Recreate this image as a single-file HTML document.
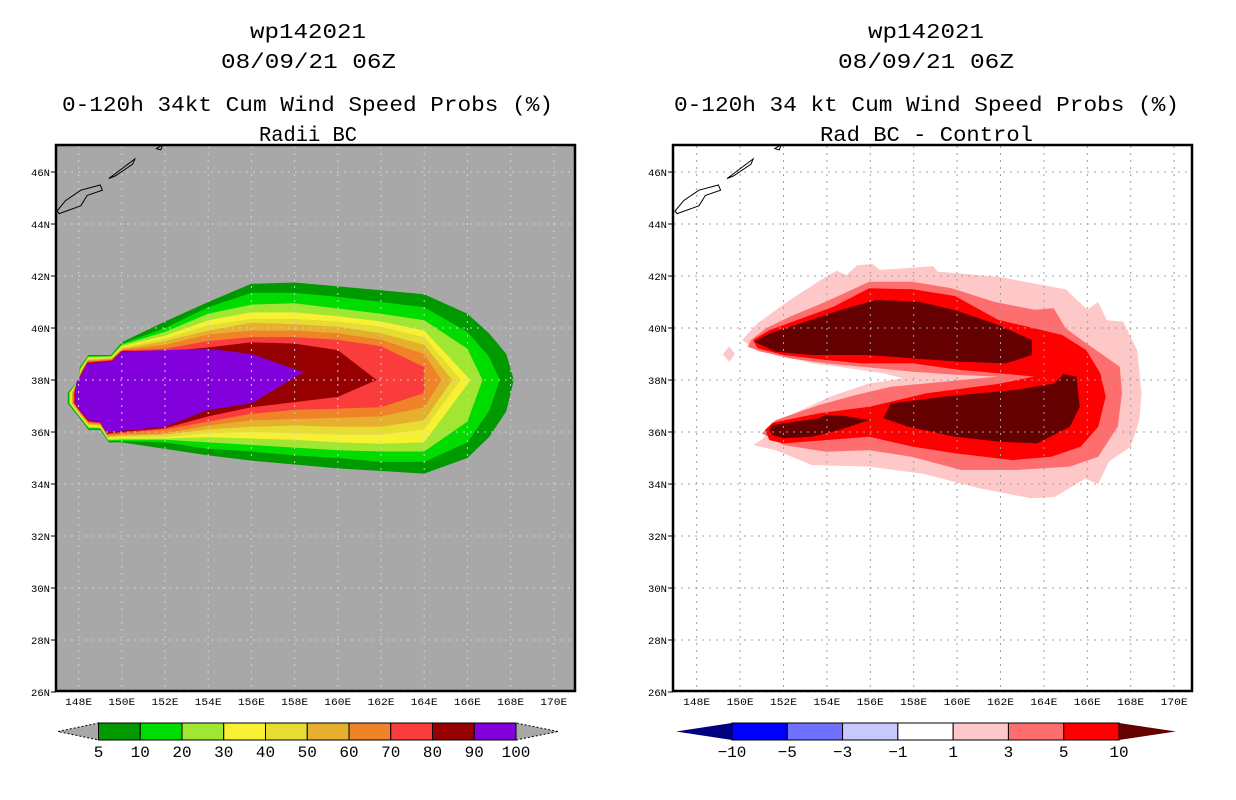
<!DOCTYPE html>
<html><head><meta charset="utf-8"><style>
html,body{margin:0;padding:0;background:#fff;}
svg{display:block;font-family:"Liberation Mono","DejaVu Sans Mono",monospace;}
</style></head><body>
<svg id="fig" width="1236" height="800" viewBox="0 0 1236 800" xmlns="http://www.w3.org/2000/svg">
<rect width="1236" height="800" fill="#fff"/>
<g font-size="21" fill="#000">
<text x="250" y="38" textLength="116" lengthAdjust="spacingAndGlyphs">wp142021</text>
<text x="221" y="68" textLength="175" lengthAdjust="spacingAndGlyphs">08/09/21 06Z</text>
<text x="62" y="111" textLength="491" lengthAdjust="spacingAndGlyphs">0-120h 34kt Cum Wind Speed Probs (%)</text>
<text x="259" y="141" textLength="98" lengthAdjust="spacingAndGlyphs">Radii BC</text>
</g>
<g font-size="21" fill="#000">
<text x="868" y="38" textLength="116" lengthAdjust="spacingAndGlyphs">wp142021</text>
<text x="838" y="68" textLength="176" lengthAdjust="spacingAndGlyphs">08/09/21 06Z</text>
<text x="674" y="111" textLength="505" lengthAdjust="spacingAndGlyphs">0-120h 34 kt Cum Wind Speed Probs (%)</text>
<text x="820" y="141" textLength="213" lengthAdjust="spacingAndGlyphs">Rad BC - Control</text>
</g>
<defs>
<clipPath id="clipL"><rect x="56" y="145" width="519" height="546"/></clipPath>
<clipPath id="clipR"><rect x="673" y="145" width="519" height="546"/></clipPath>
</defs>
<g id="left"></g>
<g id="right"></g>
<g id="cbars"></g>
</svg>
<script>
// ---------- data (lon/lat in degrees) ----------
const lonTicks = [148,150,152,154,156,158,160,162,164,166,168,170];
const latTicks = [26,28,30,32,34,36,38,40,42,44,46];
const probLons = [150,152,154,156,158,160,162,164,166,167,167.8];
const probLevels = [5,10,20,30,40,50,60,70,80,90,100];
const probColors = ["#009a00","#00dc00","#a0e632","#f8f032","#e6dc32","#e6af2d","#f08228","#fa3c3c","#960000","#8200dc"];
const northLat5  = [39.45,40.25,41.0,41.7,41.75,41.6,41.45,41.3,40.55,39.8,39.0];
const southLat5  = [35.6,35.35,35.1,34.9,34.75,34.6,34.5,34.4,35.0,35.8,36.8];
const northLat10 = [39.4,40.0,40.8,41.35,41.35,41.2,41.0,40.8,39.85,38.9];
const southLat10 = [35.65,35.6,35.35,35.25,35.1,35.0,34.85,34.85,35.6,36.8];
const northLat20 = [39.35,39.85,40.55,40.9,40.95,40.75,40.55,40.3,39.2];
const southLat20 = [35.7,35.7,35.6,35.5,35.4,35.3,35.25,35.25,36.4];
const northLat30 = [39.3,39.7,40.3,40.6,40.6,40.45,40.25,39.9];
const southLat30 = [35.75,35.75,35.8,35.75,35.7,35.6,35.55,35.6];
const northLat40 = [39.25,39.6,40.1,40.35,40.35,40.25,40.05,39.65];
const southLat40 = [35.8,35.8,35.95,36.0,35.95,35.9,35.9,36.1];
const northLat50 = [39.2,39.5,39.9,40.2,40.15,40.05,39.8,39.35];
const southLat50 = [35.85,35.9,36.1,36.2,36.25,36.2,36.2,36.45];
const northLat60 = [39.17,39.35,39.75,39.9,39.9,39.8,39.55,39.0];
const southLat60 = [35.9,35.95,36.25,36.45,36.5,36.55,36.6,36.95];
const northLat70 = [39.15,39.2,39.5,39.65,39.65,39.55,39.3,38.5];
const southLat70 = [35.95,36.1,36.4,36.7,36.85,36.9,36.95,37.5];
const northLat80 = [39.12,39.1,39.25,39.45,39.4,39.15];
const southLat80 = [36.0,36.15,36.6,36.95,37.15,37.35];
const northLat90 = [39.1,39.15,39.2,39.0];
const southLat90 = [36.05,36.2,36.85,37.1];
const tipLon = [168.15,167.5,166.7,166.15,165.7,165.3,164.8,164.0,161.8,158.4];
const tipLat = [38,38,38,38,38,38,38,38,38,38.3];
const notchOuter = [[149.5,38.96],[148.46,38.96],[148.06,38.5],[147.98,38.0],[147.5,37.5],[147.5,37.1],[147.98,36.6],[148.46,36.08],[149.0,36.08],[149.4,35.6]];
const notchInner = [[149.55,38.72],[148.4,38.63],[148.2,38.3],[147.9,37.9],[147.85,37.5],[147.85,37.1],[148.1,36.8],[148.45,36.46],[149.0,36.4],[149.3,35.98]];

const diffLevels = ["\u221210","\u22125","\u22123","\u22121","1","3","5","10"];
const diffColors = ["#0000ff","#7070ff","#c8c8ff","#ffffff","#ffc8c8","#ff6e6e","#ff0000"];
const diff1 = [[150.1,39.54],[150.8,40.18],[152.3,41.08],[153.95,41.97],[154.45,42.2],[154.9,42.04],[155.4,42.42],[156.1,42.46],[156.45,42.23],[158.9,42.38],[159.1,42.17],[161.9,41.97],[165.0,41.49],[166.0,40.7],[166.5,41.0],[166.9,40.3],[167.65,40.25],[168.3,39.15],[168.5,37.5],[168.4,36.46],[168.0,35.44],[167.0,34.86],[166.5,34.0],[165.9,34.2],[164.5,33.5],[163.4,33.45],[161.05,33.83],[158.4,34.4],[155.95,34.67],[153.3,34.73],[151.65,35.3],[150.6,35.5],[151.0,35.7],[151.75,36.4],[152.5,36.72],[154.15,37.36],[155.95,37.87],[157.5,38.06],[156.6,38.26],[154.6,38.5],[153.3,38.64],[151.9,38.96],[150.8,39.1]];
const diff1Dot = [[149.2,38.99],[149.5,39.3],[149.77,38.99],[149.5,38.7]];
const diff3 = [[150.5,39.54],[151.2,39.99],[152.3,40.44],[153.95,41.01],[155.95,41.78],[157.95,41.78],[159.75,41.53],[161.7,41.01],[163.55,40.7],[164.45,40.76],[165.0,39.99],[165.95,39.41],[167.5,38.51],[167.6,37.49],[167.4,36.2],[166.5,35.05],[165.2,34.67],[162.7,34.54],[160.2,34.54],[157.9,35.05],[155.95,35.3],[153.95,35.24],[152.0,35.5],[151.0,35.95],[151.65,36.46],[153.65,37.04],[155.3,37.42],[156.95,37.74],[160.2,38.0],[161.9,38.13],[160.2,38.19],[157.95,38.32],[155.6,38.51],[153.95,38.64],[152.3,38.83],[151.0,39.09],[150.35,39.28]];
const diff5 = [[150.6,39.54],[151.35,39.92],[152.65,40.31],[154.3,40.82],[155.95,41.53],[157.95,41.49],[159.9,41.23],[161.9,40.31],[163.55,39.99],[164.85,39.73],[165.95,39.15],[166.6,38.26],[166.85,37.36],[166.5,36.2],[165.7,35.44],[164.35,35.05],[162.55,34.92],[159.9,35.18],[157.95,35.44],[155.95,35.82],[153.95,35.69],[152.0,35.56],[151.35,35.69],[151.15,36.08],[151.5,36.36],[153.65,36.72],[155.95,36.97],[158.6,37.49],[161.9,37.85],[163.55,38.13],[161.9,38.26],[160.2,38.38],[157.95,38.64],[155.6,38.64],[153.95,38.77],[152.0,38.96],[150.8,39.22]];
const diff10North = [[150.65,39.47],[151.35,39.79],[152.8,40.18],[154.6,40.69],[156.3,41.08],[158.25,41.01],[159.9,40.69],[161.9,40.12],[163.45,39.54],[163.45,38.96],[162.25,38.64],[160.2,38.7],[157.95,38.83],[155.95,38.96],[153.3,38.96],[151.65,39.09]];
const diff10SouthW = [[151.35,36.08],[151.5,36.27],[153.6,36.53],[153.95,36.65],[154.8,36.62],[155.95,36.46],[154.6,36.08],[153.3,35.82],[152.0,35.76],[151.5,35.88]];
const diff10SouthE = [[156.6,36.53],[156.95,37.1],[159.4,37.36],[162.7,37.62],[164.5,37.87],[164.9,38.23],[165.5,38.13],[165.65,36.97],[165.2,36.2],[163.7,35.56],[161.9,35.63],[159.9,35.82],[157.75,36.2]];

// ---------- axes ----------
const NS = "http://www.w3.org/2000/svg";
function xL(lon){ return 57 + (lon-147)*21.6; }
function xR(lon){ return 675 + (lon-147)*21.7; }
function yM(lat){ return 380 - (lat-38)*26; }
function mk(tag, attrs, parent){ const e=document.createElementNS(NS,tag); for(const k in attrs) e.setAttribute(k,attrs[k]); parent.appendChild(e); return e; }
function ptsStr(list, fx){ return list.map(p=>fx(p[0]).toFixed(1)+","+yM(p[1]).toFixed(1)).join(" "); }

const leftG = document.getElementById('left');
const rightG = document.getElementById('right');

// ----- left panel -----
const bgL = mk('rect',{x:56,y:145,width:519,height:546,fill:'#a8a8a8'},leftG);


const fillL = mk('g',{'clip-path':'url(#clipL)'},leftG);
const norths = [northLat5,northLat10,northLat20,northLat30,northLat40,northLat50,northLat60,northLat70,northLat80,northLat90];
const souths = [southLat5,southLat10,southLat20,southLat30,southLat40,southLat50,southLat60,southLat70,southLat80,southLat90];
for(let i=0;i<norths.length;i++){
  const n = norths[i], s = souths[i], t = i/(norths.length-1);
  const pts = [];
  for(let j=0;j<n.length;j++) pts.push([probLons[j], n[j]]);
  pts.push([tipLon[i], tipLat[i]]);
  for(let j=s.length-1;j>=0;j--) pts.push([probLons[j], s[j]]);
  for(let k=notchOuter.length-1;k>=0;k--){
    const a=notchOuter[k], b=notchInner[k];
    pts.push([a[0]+(b[0]-a[0])*t, a[1]+(b[1]-a[1])*t]);
  }
  const p = mk('polygon',{points:ptsStr(pts,xL),fill:probColors[i]},fillL);
  
  
}

// ----- right panel -----
const bgR = mk('rect',{x:673,y:145,width:519,height:546,fill:'#ffffff'},rightG);


const fillR = mk('g',{'clip-path':'url(#clipR)'},rightG);
const diffShapes = [[diff1,"#ffc8c8","diff-contour-1"],[diff1Dot,"#ffc8c8","diff-contour-1-spot"],[diff3,"#ff6e6e","diff-contour-3"],[diff5,"#ff0000","diff-contour-5"],[diff10North,"#640000","diff-contour-10-north"],[diff10SouthW,"#640000","diff-contour-10-southwest"],[diff10SouthE,"#640000","diff-contour-10-southeast"]];
diffShapes.forEach(ds=>{
  const p = mk('polygon',{points:ptsStr(ds[0],xR),fill:ds[1]},fillR);
  
  
});

// ----- grid, islands, frame, ticks for both -----
function decorate(g, fx, x0, x1, gridColor, side){
  const grid = mk('g',{stroke:gridColor,'stroke-width':1,'stroke-dasharray':'2,5'},g);
  
  
  lonTicks.forEach(l=>{ mk('line',{x1:fx(l),x2:fx(l),y1:146,y2:690},grid); });
  latTicks.forEach(l=>{ mk('line',{x1:x0+1,x2:x1-1,y1:yM(l),y2:yM(l)},grid); });
  const isl = mk('g',{fill:'none',stroke:'#000','stroke-width':1},g);
  
  
  const isls = [[[148.1,44.7],[147.1,44.4],[147.0,44.5],[147.4,44.9],[148.1,45.3],[149.0,45.5],[149.1,45.3],[148.4,45.1]],
                [[149.4,45.75],[150.2,46.25],[150.6,46.5],[150.5,46.3],[149.7,45.85]],
                [[151.6,46.9],[151.9,47.05],[151.8,46.85]]];
  const cg = mk('g',{'clip-path':'url(#clip'+(side==='left'?'L':'R')+')'},isl);
  isls.forEach(c=>{ mk('polygon',{points:ptsStr(c,fx)},cg); });
  const fr = mk('rect',{x:x0,y:145,width:x1-x0,height:546,fill:'none',stroke:'#000','stroke-width':2.5},g);
  
  
  const ax = mk('g',{'font-size':10,fill:'#000'},g);
  
  
  latTicks.forEach(l=>{
    mk('line',{x1:x0-5,x2:x0,y1:yM(l),y2:yM(l),stroke:'#000'},ax);
    const t = mk('text',{x:x0-6,y:yM(l)+4,'text-anchor':'end',textLength:19,lengthAdjust:'spacingAndGlyphs'},ax);
    t.textContent = l+'N';
  });
  lonTicks.forEach(l=>{
    const t = mk('text',{x:fx(l),y:705,'text-anchor':'middle',textLength:27,lengthAdjust:'spacingAndGlyphs'},ax);
    t.textContent = l+'E';
  });
}
decorate(leftG, xL, 56, 575, '#cfcfcf', 'left');
decorate(rightG, xR, 673, 1192, '#a0a0a0', 'right');

// ----- colorbars -----
const cb = document.getElementById('cbars');
function colorbar(x0, x1, colors, labels, leftTri, rightTri, tipL, tipR, side){
  const g = mk('g',{},cb);
  
  
  const yT=723, yB=740, yM2=731.5;
  const dash = side==='left' ? {'stroke':'#000','stroke-dasharray':'2,2','stroke-width':1} : {};
  const tl = mk('polygon',Object.assign({points:tipL+','+yM2+' '+x0+','+yT+' '+x0+','+yB,fill:leftTri},dash),g);
  
  
  const tr = mk('polygon',Object.assign({points:tipR+','+yM2+' '+x1+','+yT+' '+x1+','+yB,fill:rightTri},dash),g);
  
  
  const w = (x1-x0)/colors.length;
  colors.forEach((c,i)=>{
    const r = mk('rect',{x:x0+i*w,y:yT,width:w,height:yB-yT,fill:c,stroke:'#000','stroke-width':1},g);
    
    
  });
  labels.forEach((lb,i)=>{
    const t = mk('text',{x:x0+i*w,y:757,'text-anchor':'middle','font-size':16,fill:'#000'},g);
    
    
    t.textContent = lb;
  });
}
colorbar(98.5, 516, probColors, probLevels.map(String), '#a8a8a8', '#a8a8a8', 58, 558, 'left');
colorbar(732, 1119, diffColors, diffLevels, '#000080', '#640000', 676, 1176, 'right');
</script>
</body></html>
